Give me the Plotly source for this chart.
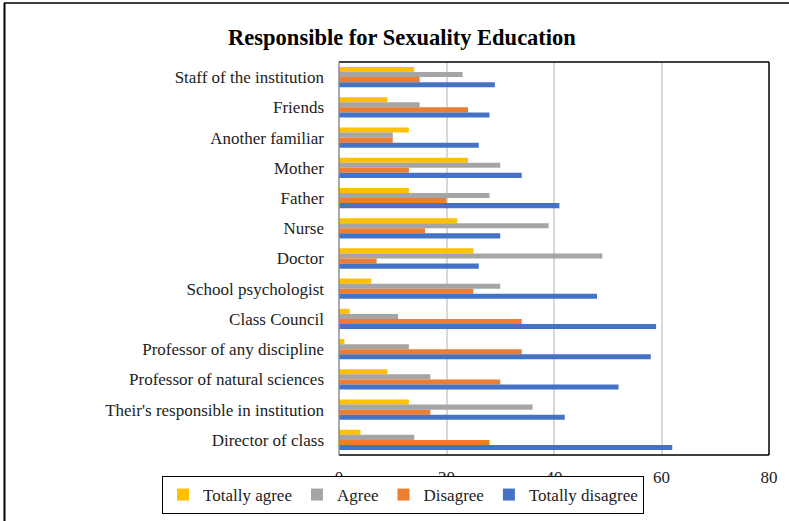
import plotly.graph_objects as go

categories = [
    "Staff of the institution", "Friends", "Another familiar", "Mother", "Father",
    "Nurse", "Doctor", "School psychologist", "Class Council",
    "Professor of any discipline", "Professor of natural sciences",
    "Their's responsible in institution", "Director of class",
]
totally_agree = [14, 9, 13, 24, 13, 22, 25, 6, 2, 1, 9, 13, 4]
agree = [23, 15, 10, 30, 28, 39, 49, 30, 11, 13, 17, 36, 14]
disagree = [15, 24, 10, 13, 20, 16, 7, 25, 34, 34, 30, 17, 28]
totally_disagree = [29, 28, 26, 34, 41, 30, 26, 48, 59, 58, 52, 42, 62]

series_names = ["Totally agree", "Agree", "Disagree", "Totally disagree"]
series_values = [totally_agree, agree, disagree, totally_disagree]
colors = ["#FFC000", "#A5A5A5", "#ED7D31", "#4472C4"]
x_ticks = [0, 20, 40, 60, 80]

FONT = "Liberation Serif"

fig = go.Figure()
for name, vals, col in zip(series_names, series_values, colors):
    fig.add_trace(go.Bar(y=categories, x=vals, name=name, orientation="h",
                         marker=dict(color=col, line=dict(width=0))))

L, R, T, B = 339, 20, 62, 66
W, H = 789, 521
pw, ph = W - L - R, H - T - B

def px_x(p):
    return (p - L) / pw

def px_y(p):
    return (H - B - p) / ph

fig.update_layout(
    width=W, height=H,
    margin=dict(l=L, r=R, t=T, b=B, autoexpand=False),
    paper_bgcolor="white", plot_bgcolor="white",
    barmode="group", bargap=0.33, bargroupgap=0,
    font=dict(family=FONT, size=17, color="#222222"),
    title=dict(text="<b>Responsible for Sexuality Education</b>",
               x=402 / W, xref="container", xanchor="center",
               y=1 - 37 / H, yanchor="middle",
               font=dict(family=FONT, size=22.5, color="black")),
    xaxis=dict(range=[0, 80], tickvals=x_ticks, showgrid=True,
               gridcolor="#D9D9D9", gridwidth=1.5, zeroline=False,
               showline=False, ticks="", ticklabelstandoff=10,
               tickfont=dict(size=17, color="#222222")),
    yaxis=dict(autorange="reversed", showgrid=False, showline=False,
               ticks="", ticklabelstandoff=14,
               tickfont=dict(size=17, color="#222222")),
    legend=dict(orientation="h", x=px_x(162), xref="paper", xanchor="left",
                y=px_y(476), yref="paper", yanchor="top",
                bordercolor="black", borderwidth=1,
                font=dict(family=FONT, size=17, color="#222222"),
                tracegroupgap=0),
    showlegend=True,
)

shapes = [
    # plot frame
    dict(type="line", xref="paper", yref="paper", x0=0, x1=1, y0=1, y1=1,
         line=dict(color="black", width=1.5)),
    dict(type="line", xref="paper", yref="paper", x0=1, x1=1, y0=0, y1=1,
         line=dict(color="black", width=1.5)),
    dict(type="line", xref="paper", yref="paper", x0=0, x1=1, y0=0, y1=0,
         line=dict(color="black", width=1.5)),
    dict(type="line", xref="paper", yref="paper", x0=0, x1=0, y0=0, y1=1,
         line=dict(color="#8C8C8C", width=1.5)),
    # outer chart border (top and left visible)
    dict(type="line", xref="paper", yref="paper", x0=px_x(4), x1=px_x(800),
         y0=px_y(3), y1=px_y(3), line=dict(color="black", width=1.5)),
    dict(type="line", xref="paper", yref="paper", x0=px_x(4.5), x1=px_x(4.5),
         y0=px_y(3), y1=px_y(530), line=dict(color="black", width=2)),
]
fig.update_layout(shapes=shapes)

fig.write_html("out.html")
